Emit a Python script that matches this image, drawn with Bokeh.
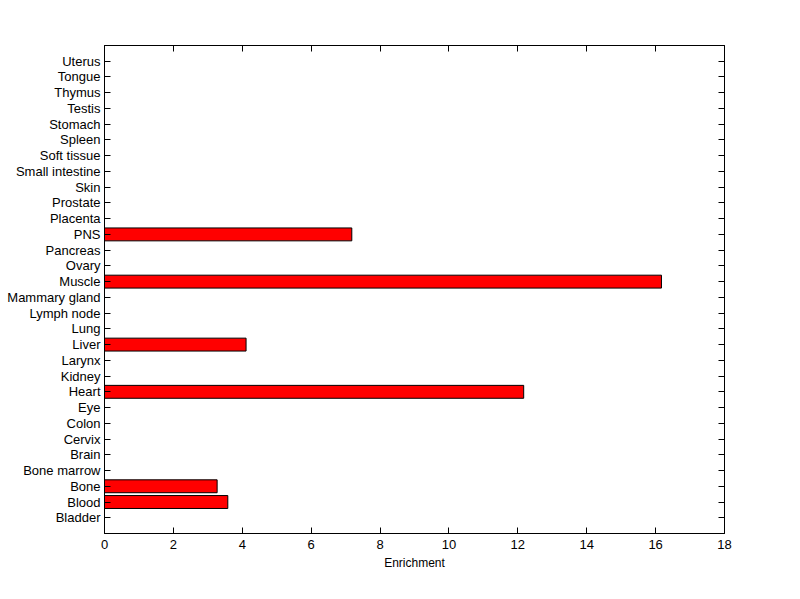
from bokeh.plotting import figure
from bokeh.models import Range1d, FixedTicker, LinearAxis, ColumnDataSource
from bokeh.embed import file_html
from bokeh.resources import INLINE

tissues = ["Bladder", "Blood", "Bone", "Bone marrow", "Brain", "Cervix", "Colon", "Eye",
           "Heart", "Kidney", "Larynx", "Liver", "Lung", "Lymph node", "Mammary gland",
           "Muscle", "Ovary", "Pancreas", "PNS", "Placenta", "Prostate", "Skin",
           "Small intestine", "Soft tissue", "Spleen", "Stomach", "Testis", "Thymus",
           "Tongue", "Uterus"]
enrichment = [0, 3.58, 3.27, 0, 0, 0, 0, 0,
              12.17, 0, 0, 4.11, 0, 0, 0,
              16.17, 0, 0, 7.18, 0, 0, 0,
              0, 0, 0, 0, 0, 0,
              0, 0]
x_ticks = [0, 2, 4, 6, 8, 10, 12, 14, 16, 18]

positions = list(range(1, len(tissues) + 1))
nz = [(p_, v) for p_, v in zip(positions, enrichment) if v > 0]
src = ColumnDataSource(dict(y=[a for a, _ in nz], right=[b for _, b in nz]))

FONT = "Liberation Sans"
FS = "13px"

p = figure(width=784, height=583, output_backend="svg", toolbar_location=None,
           x_range=Range1d(0, 18), y_range=Range1d(0, len(tissues) + 1),
           frame_width=620, frame_height=488,
           min_border_left=104, min_border_top=45, min_border_right=60, min_border_bottom=50,
           x_axis_location=None, y_axis_location=None)
p.background_fill_color = "white"
p.border_fill_color = "white"
p.outline_line_color = "black"
p.outline_line_width = 1
p.grid.visible = False

p.hbar(y="y", right="right", left=0, height=0.82, source=src,
       fill_color="#ff0000", line_color="black", line_width=1)

def style(ax, labels=True):
    ax.major_tick_in = 6
    ax.major_tick_out = 0
    ax.minor_tick_line_color = None
    ax.axis_line_color = "black"
    ax.major_tick_line_color = "black"
    ax.major_label_text_font = FONT
    ax.major_label_text_font_size = FS
    ax.major_label_text_color = "black" if labels else None
    ax.axis_label_text_font = FONT
    ax.axis_label_text_font_size = "12px"
    ax.axis_label_text_font_style = "normal"
    ax.axis_label_text_color = "black"

xb = LinearAxis(ticker=FixedTicker(ticks=x_ticks), axis_label="Enrichment")
style(xb)
xb.major_label_standoff = 6
xb.axis_label_standoff = 4
p.add_layout(xb, "below")

xt = LinearAxis(ticker=FixedTicker(ticks=x_ticks))
style(xt, labels=False)
p.add_layout(xt, "above")

yl = LinearAxis(ticker=FixedTicker(ticks=positions),
                major_label_overrides={i: t for i, t in zip(positions, tissues)})
style(yl)
yl.major_label_standoff = 4
p.add_layout(yl, "left")

yr = LinearAxis(ticker=FixedTicker(ticks=positions))
style(yr, labels=False)
p.add_layout(yr, "right")

open("out.html", "w").write(file_html(p, INLINE))
